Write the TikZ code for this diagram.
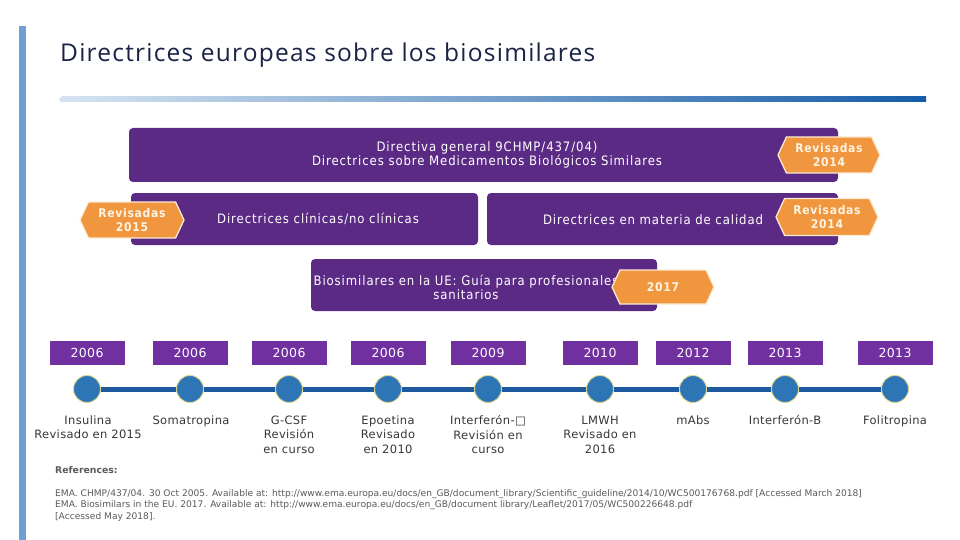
\documentclass[tikz,border=0pt]{standalone}
\usepackage{fontspec}
\setmainfont{DejaVu Sans}
\newfontfamily\titlefont[LetterSpace=5]{Open Sans}
\newfontfamily\boxfont[LetterSpace=7]{DejaVu Sans Condensed}
\newfontfamily\badgefont[LetterSpace=6]{DejaVu Sans Condensed}
\newfontfamily\labfont[LetterSpace=3]{DejaVu Sans}
\definecolor{purp}{RGB}{91,42,132}
\definecolor{ypurp}{RGB}{112,48,160}
\definecolor{orng}{RGB}{239,150,62}
\definecolor{obord}{RGB}{252,234,210}
\definecolor{btext}{RGB}{255,244,228}
\definecolor{lblue}{RGB}{110,160,212}
\definecolor{navy}{RGB}{25,35,70}
\definecolor{gstart}{RGB}{214,228,240}
\definecolor{gend}{RGB}{22,92,168}
\definecolor{tblue}{RGB}{31,90,160}
\definecolor{cblue}{RGB}{46,117,182}
\definecolor{cbord}{RGB}{222,214,140}
\definecolor{gtext}{RGB}{55,55,55}
\definecolor{rtext}{RGB}{90,90,90}
\usetikzlibrary{shapes.symbols}
\begin{document}
\begin{tikzpicture}[x=1pt,y=-1pt,
  box/.style={fill=purp, rounded corners=4pt, inner sep=0pt},
  boxtext/.style={text=white, font=\boxfont\fontsize{13}{14}\selectfont, align=center, inner sep=0pt},
  badge/.style={signal, signal to=west and east, signal pointer angle=130, fill=orng, draw=obord,
    line width=1.3pt, text=btext, font=\badgefont\bfseries\fontsize{12}{14}\selectfont, align=center, inner sep=0pt},
  yearbox/.style={fill=ypurp, minimum width=75pt, minimum height=24pt, text=white,
    font=\labfont\fontsize{12.5}{14}\selectfont, inner sep=0pt},
  dot/.style={circle, fill=cblue, draw=cbord, line width=0.9pt, minimum size=27pt, inner sep=0pt},
  tline/.style={tblue, line width=5pt},
  lab/.style={text=gtext, font=\labfont\fontsize{11.5}{14.5}\selectfont, align=center, anchor=north, inner sep=0pt},
  reftext/.style={text=rtext, font=\fontsize{9.1}{11}\selectfont, anchor=base west, inner sep=0pt}
]
\useasboundingbox (0,0) rectangle (960,540);
\fill[white] (0,0) rectangle (960,540);
% left bar
\fill[lblue] (19,26) rectangle (26,540);
% title
\node[anchor=base west, inner sep=0pt, text=navy, font=\titlefont\fontsize{24.5}{28}\selectfont] (title) at (60,62) {Directrices europeas sobre los biosimilares};
% gradient rule
\shade[left color=gstart, right color=gend] (62,97) rectangle (926,102);
\fill[gstart] (62,99.5) circle (2.8);

% boxes
\node[box, minimum width=709pt, minimum height=54pt] (b1) at (483.5,155) {};
\node[boxtext] (t1) at (487,155) {Directiva general 9CHMP/437/04)\\Directrices sobre Medicamentos Biológicos Similares};
\node[box, minimum width=347pt, minimum height=52pt] (b2) at (304.5,219) {};
\node[boxtext] (t2) at (318,219) {Directrices clínicas/no clínicas};
\node[box, minimum width=351pt, minimum height=52pt] (b3) at (662.5,219) {};
\node[boxtext] (t3) at (653,220) {Directrices en materia de calidad};
\node[box, minimum width=346pt, minimum height=52pt] (b4) at (484,285) {};
\node[boxtext] (t4) at (466,287) {Biosimilares en la UE: Guía para profesionales\\sanitarios};

% badges
\node[badge, minimum width=102pt, minimum height=36pt] (r1) at (829,155) {Revisadas\\2014};
\node[badge, minimum width=104pt, minimum height=36pt] (r2) at (132,220) {Revisadas\\2015};
\node[badge, minimum width=102pt, minimum height=37pt] (r3) at (827,217) {Revisadas\\2014};
\node[badge, minimum width=102pt, minimum height=34pt] (r4) at (663,287) {2017};

% timeline
\foreach \i/\x/\yr in {1/87/2006, 2/190/2006, 3/289/2006, 4/388/2006, 5/488/2009, 6/600/2010, 7/693/2012, 8/785/2013, 9/895/2013}{
  \node[yearbox] (y\i) at (\x,353) {\yr};
  \node[dot] (d\i) at (\x,389) {};
}
\foreach \a/\b in {1/2,2/3,3/4,4/5,5/6,6/7,7/8,8/9}{
  \draw[tline] (d\a) -- (d\b);
}
\node[lab] (l1) at (88,415.5) {Insulina\\Revisado en 2015};
\node[lab] (l2) at (191,415.5) {Somatropina};
\node[lab] (l3) at (289,415.5) {G-CSF\\Revisión\\en curso};
\node[lab] (l4) at (388,415.5) {Epoetina\\Revisado\\en 2010};
\node[lab] (l5) at (488,415.5) {Interferón-□\\Revisión en\\curso};
\node[lab] (l6) at (600,415.5) {LMWH\\Revisado en\\2016};
\node[lab] (l7) at (693,415.5) {mAbs};
\node[lab] (l8) at (785,415.5) {Interferón-B};
\node[lab] (l9) at (895,415.5) {Folitropina};

% references
\node[reftext, font=\bfseries\fontsize{9.3}{10}\selectfont] (refh) at (55,473) {References:};
\node[reftext] (ref1) at (55,496) {EMA. CHMP/437/04. 30 Oct 2005. Available at: http://www.ema.europa.eu/docs/en\_GB/document\_library/Scientific\_guideline/2014/10/WC500176768.pdf [Accessed March 2018]};
\node[reftext] (ref2) at (55,507.5) {EMA. Biosimilars in the EU. 2017. Available at: http://www.ema.europa.eu/docs/en\_GB/document library/Leaflet/2017/05/WC500226648.pdf};
\node[reftext] (ref3) at (55,519) {[Accessed May 2018].};
\end{tikzpicture}
\end{document}
